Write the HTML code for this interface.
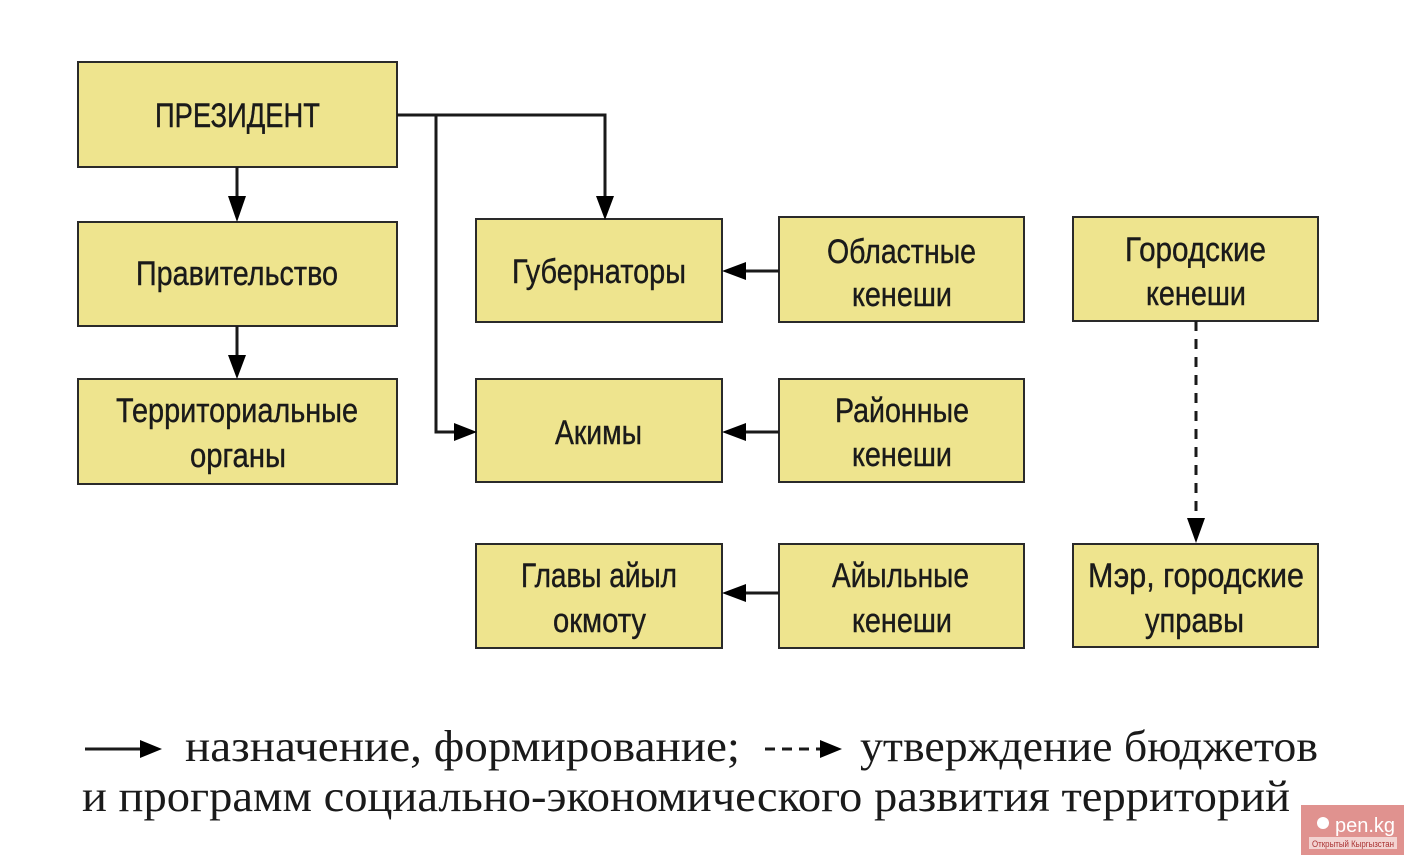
<!DOCTYPE html>
<html><head><meta charset="utf-8"><style>
html,body{margin:0;padding:0;background:#fff;}
svg{display:block;}
.b{fill:#eee48e;stroke:#2a2a2a;stroke-width:2;}
.t{font-family:"Liberation Sans Narrow","Liberation Sans",sans-serif;font-size:34px;fill:#1a1a1a;stroke:#1a1a1a;stroke-width:0.4;}
.l{font-family:"Liberation Serif",serif;font-size:44px;fill:#1a1a1a;}
.c{stroke:#1a1a1a;stroke-width:3;fill:none;}
</style></head><body>
<svg width="1408" height="862" viewBox="0 0 1408 862" xmlns="http://www.w3.org/2000/svg">
<rect class="b" x="78" y="62" width="319" height="105"/>
<rect class="b" x="78" y="222" width="319" height="104"/>
<rect class="b" x="78" y="379" width="319" height="105"/>
<rect class="b" x="476" y="219" width="246" height="103"/>
<rect class="b" x="779" y="217" width="245" height="105"/>
<rect class="b" x="1073" y="217" width="245" height="104"/>
<rect class="b" x="476" y="379" width="246" height="103"/>
<rect class="b" x="779" y="379" width="245" height="103"/>
<rect class="b" x="476" y="544" width="246" height="104"/>
<rect class="b" x="779" y="544" width="245" height="104"/>
<rect class="b" x="1073" y="544" width="245" height="103"/>

<text class="t" x="155" y="127" textLength="165" lengthAdjust="spacingAndGlyphs">ПРЕЗИДЕНТ</text>
<text class="t" x="136" y="285" textLength="202" lengthAdjust="spacingAndGlyphs">Правительство</text>
<text class="t" x="116" y="422" textLength="242" lengthAdjust="spacingAndGlyphs">Территориальные</text>
<text class="t" x="190" y="467" textLength="96" lengthAdjust="spacingAndGlyphs">органы</text>
<text class="t" x="512" y="283" textLength="174" lengthAdjust="spacingAndGlyphs">Губернаторы</text>
<text class="t" x="827" y="263" textLength="149" lengthAdjust="spacingAndGlyphs">Областные</text>
<text class="t" x="852" y="306" textLength="100" lengthAdjust="spacingAndGlyphs">кенеши</text>
<text class="t" x="1125" y="261" textLength="141" lengthAdjust="spacingAndGlyphs">Городские</text>
<text class="t" x="1146" y="305" textLength="100" lengthAdjust="spacingAndGlyphs">кенеши</text>
<text class="t" x="555" y="444" textLength="87" lengthAdjust="spacingAndGlyphs">Акимы</text>
<text class="t" x="835" y="422" textLength="134" lengthAdjust="spacingAndGlyphs">Районные</text>
<text class="t" x="852" y="466" textLength="100" lengthAdjust="spacingAndGlyphs">кенеши</text>
<text class="t" x="521" y="587" textLength="156" lengthAdjust="spacingAndGlyphs">Главы айыл</text>
<text class="t" x="553" y="632" textLength="93" lengthAdjust="spacingAndGlyphs">окмоту</text>
<text class="t" x="832" y="587" textLength="137" lengthAdjust="spacingAndGlyphs">Айыльные</text>
<text class="t" x="852" y="632" textLength="100" lengthAdjust="spacingAndGlyphs">кенеши</text>
<text class="t" x="1088" y="587" textLength="216" lengthAdjust="spacingAndGlyphs">Мэр, городские</text>
<text class="t" x="1145" y="632" textLength="99" lengthAdjust="spacingAndGlyphs">управы</text>

<polyline class="c" points="397,115 605,115 605,200"/>
<polygon points="596,196 614,196 605,220"/>
<polyline class="c" points="436,115 436,432 458,432"/>
<polygon points="454,423 454,441 477,432"/>
<line class="c" x1="237" y1="167" x2="237" y2="200"/>
<polygon points="228,196 246,196 237,222"/>
<line class="c" x1="237" y1="326" x2="237" y2="358"/>
<polygon points="228,355 246,355 237,379"/>
<line class="c" x1="779" y1="271" x2="742" y2="271"/>
<polygon points="746,262 746,280 722,271"/>
<line class="c" x1="779" y1="432" x2="742" y2="432"/>
<polygon points="746,423 746,441 722,432"/>
<line class="c" x1="779" y1="593" x2="742" y2="593"/>
<polygon points="746,584 746,602 722,593"/>
<line class="c" x1="1196" y1="321" x2="1196" y2="520" stroke-dasharray="10,8"/>
<polygon points="1187,518 1205,518 1196,543"/>

<line class="c" x1="85" y1="749" x2="145" y2="749"/>
<polygon points="140,740 140,758 162,749"/>
<text class="l" x="185" y="761" textLength="555" lengthAdjust="spacingAndGlyphs">назначение, формирование;</text>
<line class="c" x1="765" y1="749" x2="822" y2="749" stroke-dasharray="10,7"/>
<polygon points="820,740 820,758 842,749"/>
<text class="l" x="860" y="761" textLength="458" lengthAdjust="spacingAndGlyphs">утверждение бюджетов</text>
<text class="l" x="82" y="811" textLength="1208" lengthAdjust="spacingAndGlyphs">и программ социально-экономического развития территорий</text>

<rect x="1301" y="805" width="103" height="50" fill="#e0928f"/>
<text x="1335" y="832" font-family="Liberation Sans,sans-serif" font-size="20" fill="#fff">pen.kg</text>
<circle cx="1323" cy="823" r="6" fill="#fff"/>
<rect x="1309" y="837" width="88" height="12" fill="#f3d3d1"/>
<text x="1312" y="847" font-family="Liberation Sans,sans-serif" font-size="9" fill="#a33" textLength="82" lengthAdjust="spacingAndGlyphs">Открытый Кыргызстан</text>
</svg>
</body></html>
